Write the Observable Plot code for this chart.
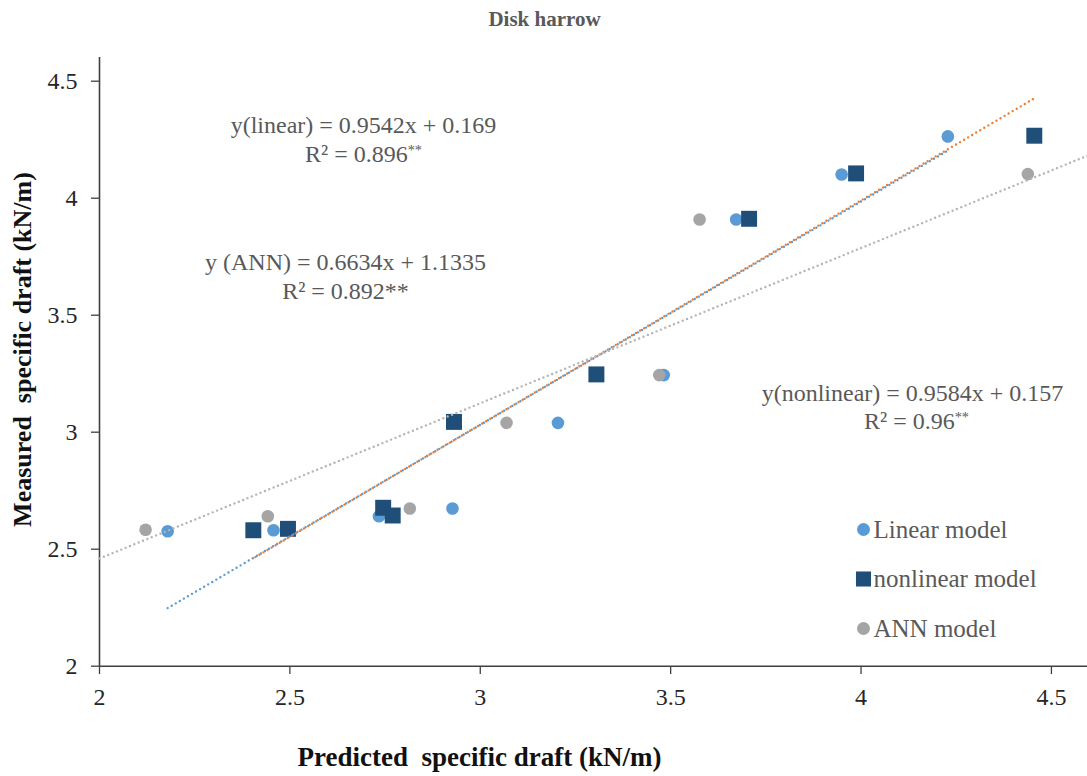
<!DOCTYPE html>
<html>
<head>
<meta charset="utf-8">
<script src="https://cdn.jsdelivr.net/npm/d3@7"></script>
<script src="https://cdn.jsdelivr.net/npm/@observablehq/plot@0.6"></script>
<style>
  body { margin: 0; background: #fff; }
  #chart svg { display: block; }
</style>
</head>
<body>
<div id="chart"></div>
<script>
// Predicted vs measured specific draft (kN/m), disk harrow
const predictedLinear = [2.179, 2.457, 2.734, 2.927, 3.204, 3.482, 3.672, 3.949, 4.228];
const measuredLinear  = [2.577, 2.581, 2.641, 2.674, 3.040, 3.244, 3.909, 4.101, 4.264];

const predictedNonlinear = [2.404, 2.495, 2.745, 2.770, 2.931, 3.305, 3.706, 3.987, 4.455];
const measuredNonlinear  = [2.581, 2.587, 2.677, 2.644, 3.044, 3.247, 3.912, 4.106, 4.267];

const predictedANN = [2.121, 2.442, 2.815, 3.069, 3.470, 3.576, 4.438];
const measuredANN  = [2.583, 2.641, 2.674, 3.040, 3.244, 3.909, 4.103];

// Fitted trend lines: slope, intercept
const fitLinear    = [0.9542, 0.169];
const fitNonlinear = [0.9584, 0.157];
const fitANN       = [0.6634, 1.1335];

const equationLabels = [
  "y(linear) = 0.9542x + 0.169",
  "y (ANN) = 0.6634x + 1.1335",
  "y(nonlinear) = 0.9584x + 0.157"
];
const r2Labels = ["R² = 0.896**", "R² = 0.892**", "R² = 0.96**"];
const legendLabels = ["Linear model", "nonlinear model", "ANN model"];

const xTicks = [2, 2.5, 3, 3.5, 4, 4.5];
const yTicks = [2, 2.5, 3, 3.5, 4, 4.5];
const axisDomain = [2, 4.6];

const titleText = "Disk harrow";
const xTitle = "Predicted\u00a0 specific draft (kN/m)";
const yTitle = "Measured\u00a0 specific draft (kN/m)";

// ---- build tables ----
const zip = (xs, ys) => xs.map((x, i) => ({x, y: ys[i]}));
const linearPts = zip(predictedLinear, measuredLinear);
const nonlinearPts = zip(predictedNonlinear, measuredNonlinear);
const annPts = zip(predictedANN, measuredANN);

const fitLine = ([m, b], x0, x1) => [x0, x1].map(x => ({x, y: m * x + b}));
const linearFit = fitLine(fitLinear, d3.min(predictedLinear), d3.max(predictedLinear));
const nonlinearFit = fitLine(fitNonlinear, d3.min(predictedNonlinear), d3.max(predictedNonlinear));
const annFit = fitLine(fitANN, axisDomain[0], axisDomain[1]);

const BLUE = "#5B9BD5", NAVY = "#1F4E79", GREY = "#A5A5A5", ORANGE = "#ED7D31";
const TEXT = "#595959";
const AXIS = "#404040";
const serif = "'Liberation Serif', 'Times New Roman', serif";

// round dots: zero-length dashes with round caps
const dotted = {strokeWidth: 2.4, strokeDasharray: "0,4.7", strokeLinecap: "round"};

// annotation helper (offsets from the plot frame's top-left corner)
const note = (text, dx, dy, opts = {}) =>
  Plot.text([text], {
    frameAnchor: "top-left", dx, dy, text: d => d,
    textAnchor: "middle", lineAnchor: "middle",
    fill: TEXT, fontSize: 24, ...opts
  });

const legendItem = (i, symbol, color, r) => [
  Plot.dot([legendLabels[i]], {
    frameAnchor: "top-left", dx: 764, dy: 472 + i * 49.5,
    symbol, r, fill: color
  }),
  Plot.text([legendLabels[i]], {
    frameAnchor: "top-left", dx: 774, dy: 472 + i * 49.5, text: d => d,
    textAnchor: "start", lineAnchor: "middle",
    fill: TEXT, fontSize: 25
  })
];

const chart = Plot.plot({
  width: 1087,
  height: 776,
  marginTop: 57,
  marginLeft: 99,
  marginRight: 0,
  marginBottom: 110,
  style: {background: "#fff"},
  x: {domain: axisDomain, range: [99, 1089]},
  y: {domain: axisDomain, range: [665.7, 57.3]},
  marks: [
    // axis tick marks (labels are drawn as text marks below)
    Plot.axisX({ticks: xTicks, tickSize: 8, tickFormat: () => "", label: null, stroke: AXIS, strokeWidth: 1.3}),
    Plot.axisY({ticks: yTicks, tickSize: 8, tickFormat: () => "", label: null, stroke: AXIS, strokeWidth: 1.3}),
    Plot.text(xTicks, {x: d => d, frameAnchor: "bottom", dy: 31, text: d => String(d),
      lineAnchor: "middle", fontSize: 24, fill: "#262626"}),
    Plot.text(yTicks, {y: d => d, frameAnchor: "left", dx: -22, text: d => String(d),
      textAnchor: "end", lineAnchor: "middle", fontSize: 24, fill: "#262626"}),
    Plot.ruleX([axisDomain[0]], {stroke: AXIS, strokeWidth: 1.6}),
    Plot.ruleY([axisDomain[0]], {stroke: AXIS, strokeWidth: 1.6}),

    // measured vs predicted points
    Plot.dot(linearPts, {x: "x", y: "y", r: 6.3, fill: BLUE}),
    Plot.dot(nonlinearPts, {x: "x", y: "y", symbol: "square", r: 9, fill: NAVY}),
    Plot.dot(annPts, {x: "x", y: "y", r: 6.3, fill: GREY}),

    // dotted trend lines
    Plot.line(linearFit, {x: "x", y: "y", stroke: BLUE, ...dotted}),
    Plot.line(nonlinearFit, {x: "x", y: "y", stroke: ORANGE, ...dotted, strokeDashoffset: 2.35}),
    Plot.line(annFit, {x: "x", y: "y", stroke: "#B4B4B4", ...dotted}),

    // regression equations
    note(equationLabels[0], 264, 68),
    note(r2Labels[0], 264, 97, {ariaDescription: "r2-sup"}),
    note(equationLabels[1], 246, 205),
    note(r2Labels[1], 246, 234),
    note(equationLabels[2], 813, 336),
    note(r2Labels[2], 817, 364, {ariaDescription: "r2-sup"}),

    // legend
    ...legendItem(0, "circle", BLUE, 6.5),
    ...legendItem(1, "square", NAVY, 8.5),
    ...legendItem(2, "circle", GREY, 6.5),

    // titles
    Plot.text([titleText], {frameAnchor: "top", dx: 544 - (99 + 1087) / 2, dy: -38, text: d => d,
      lineAnchor: "middle", fontWeight: "bold", fontSize: 21, fill: TEXT}),
    Plot.text([xTitle], {frameAnchor: "bottom-left", dx: 380, dy: 91, text: d => d,
      textAnchor: "middle", lineAnchor: "middle", fontWeight: "bold", fontSize: 27, fill: "#111"}),
    Plot.text([yTitle], {frameAnchor: "top-left", dx: -77, dy: 292, rotate: -90, text: d => d,
      textAnchor: "middle", lineAnchor: "middle", fontWeight: "bold", fontSize: 26, fill: "#111"})
  ]
});

// every label in the figure is set in a Times-style serif face
d3.select(chart).selectAll("text").style("font-family", serif);

// raise the significance asterisks as superscripts
d3.select(chart).selectAll('g[aria-description="r2-sup"] text').each(function () {
  const t = this.textContent;
  const base = t.replace(/\*+$/, "");
  const stars = t.slice(base.length);
  this.textContent = "";
  d3.select(this).append("tspan").text(base);
  d3.select(this).append("tspan").attr("font-size", "0.6em").attr("dy", "-0.5em").text(stars);
});

document.getElementById("chart").appendChild(chart);
</script>
</body>
</html>
